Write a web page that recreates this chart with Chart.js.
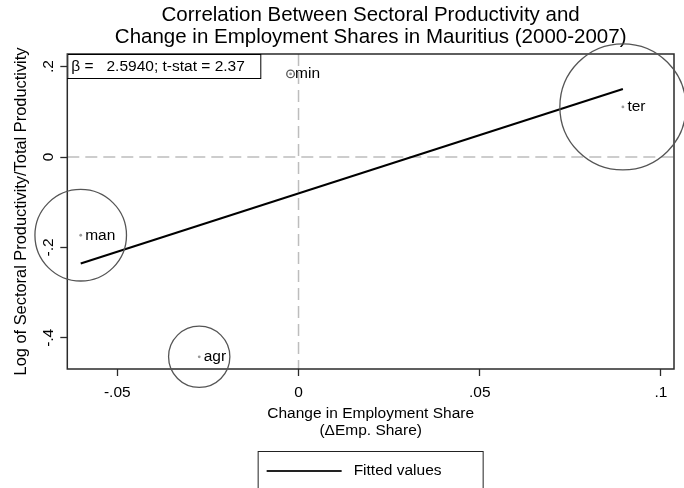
<!DOCTYPE html>
<html>
<head>
<meta charset="utf-8">
<script src="https://cdn.jsdelivr.net/npm/chart.js@4"></script>
<style>
  html, body { margin: 0; padding: 0; background: #fff; }
  #wrap { width: 684px; height: 488px; }
</style>
</head>
<body>
<div id="wrap"><canvas id="chart" width="684" height="488"></canvas></div>
<script>
// sector data
const sectors = ['man', 'agr', 'min', 'ter'];
const dEmpShare = [-0.0601, -0.0274, -0.0022, 0.0895];
const logRelProd = [-0.173, -0.442, 0.184, 0.111];
const empWeight = [0.29, 0.13, 0.002, 0.55];   // marker weights (employment share)

// fitted line end points
const fitX = [-0.0601, 0.0895];
const fitY = [-0.2355, 0.1506];

const xTicks = [-0.05, 0, 0.05, 0.1];
const xTickLabels = ['-.05', '0', '.05', '.1'];
const yTicks = [-0.4, -0.2, 0, 0.2];
const yTickLabels = ['-.4', '-.2', '0', '.2'];

const betaText = 'β =   2.5940; t-stat = 2.37';
const legendText = 'Fitted values';

const FONT = "'Liberation Sans', Arial, Helvetica, sans-serif";
Chart.defaults.font.family = FONT;
Chart.defaults.color = '#000';

const points = dEmpShare.map((x, i) => ({ x: x, y: logRelProd[i] }));
const fitPoints = fitX.map((x, i) => ({ x: x, y: fitY[i] }));

// extra drawing: reference lines, frame, labels, beta box, legend box
const decorations = {
  id: 'decorations',
  beforeDatasetsDraw(chart) {
    const { ctx, chartArea: a, scales: { x, y } } = chart;
    ctx.save();
    // dashed zero lines
    ctx.strokeStyle = '#bdbdbd';
    ctx.lineWidth = 1.5;
    ctx.setLineDash([12, 6]);
    const x0 = x.getPixelForValue(0);
    const y0 = y.getPixelForValue(0);
    ctx.beginPath();
    ctx.moveTo(x0, a.top); ctx.lineTo(x0, a.bottom);
    ctx.moveTo(a.left, y0); ctx.lineTo(a.right, y0);
    ctx.stroke();
    ctx.setLineDash([]);
    // plot frame
    ctx.strokeStyle = '#2a2a2a';
    ctx.lineWidth = 1.5;
    ctx.strokeRect(a.left, a.top, a.right - a.left, a.bottom - a.top);
    ctx.restore();
  },
  afterDraw(chart) {
    const { ctx, chartArea: a, scales: { x, y } } = chart;
    ctx.save();
    ctx.font = '15.5px ' + FONT;
    ctx.fillStyle = '#000';
    ctx.textBaseline = 'middle';
    ctx.textAlign = 'left';
    // sector labels to the right of each marker
    sectors.forEach((s, i) => {
      ctx.fillText(s, x.getPixelForValue(dEmpShare[i]) + 4.5, y.getPixelForValue(logRelProd[i]));
    });

    // beta / t-stat box
    ctx.fillStyle = '#fff';
    ctx.fillRect(a.left, a.top, 193, 24);
    ctx.strokeStyle = '#000';
    ctx.lineWidth = 1;
    ctx.strokeRect(a.left + 0.5, a.top + 0.5, 193, 24);
    ctx.fillStyle = '#000';
    ctx.fillText(betaText, a.left + 4, a.top + 12.5);

    // legend box
    const cx = (a.left + a.right) / 2;
    ctx.strokeStyle = '#222';
    ctx.strokeRect(cx - 112.5, 451.5, 225, 45);
    ctx.lineWidth = 2;
    ctx.beginPath();
    ctx.moveTo(cx - 104, 471);
    ctx.lineTo(cx - 29, 471);
    ctx.stroke();
    ctx.fillText(legendText, cx - 17, 471);
    ctx.restore();
  }
};

new Chart(document.getElementById('chart'), {
  data: {
    datasets: [
      {
        type: 'scatter',
        data: points,
        pointRadius: ctx => 85 * Math.sqrt(empWeight[ctx.dataIndex]),
        pointBackgroundColor: 'rgba(0,0,0,0)',
        pointBorderColor: '#555',
        pointBorderWidth: 1.3,
        clip: false
      },
      {
        type: 'scatter',
        data: points,
        pointRadius: 1.4,
        pointBackgroundColor: '#999',
        pointBorderWidth: 0
      },
      {
        type: 'line',
        data: fitPoints,
        borderColor: '#000',
        borderWidth: 2,
        pointRadius: 0,
        fill: false
      }
    ]
  },
  options: {
    responsive: false,
    animation: false,
    devicePixelRatio: 1,
    events: [],
    layout: { autoPadding: false, padding: { top: 0, right: 10, bottom: 0, left: 0 } },
    plugins: {
      legend: { display: false },
      tooltip: { enabled: false },
      title: {
        display: true,
        fullSize: false,
        text: ['Correlation Between Sectoral Productivity and',
               'Change in Employment Shares in Mauritius (2000-2007)'],
        font: { size: 20.5, weight: 'normal', lineHeight: '22px' },
        color: '#000',
        padding: { top: 4.5, bottom: 5.5 }
      }
    },
    scales: {
      x: {
        type: 'linear',
        min: -0.0638,
        max: 0.1036,
        afterBuildTicks: s => { s.ticks = xTicks.map(v => ({ value: v })); },
        afterFit: s => { s.height = 119; },
        ticks: {
          callback: (v, i) => xTickLabels[i],
          font: { size: 15.5 },
          color: '#000',
          padding: 7,
          maxRotation: 0
        },
        grid: { drawOnChartArea: false, drawTicks: true, tickLength: 7, color: '#2a2a2a', tickWidth: 1.3 },
        border: { display: false },
        title: {
          display: true,
          text: ['Change in Employment Share', '(ΔEmp. Share)'],
          font: { size: 15.5, lineHeight: '17px' },
          color: '#000',
          padding: { top: 0, bottom: 48.5 }
        }
      },
      y: {
        type: 'linear',
        min: -0.469,
        max: 0.228,
        afterBuildTicks: s => { s.ticks = yTicks.map(v => ({ value: v })); },
        afterFit: s => { s.width = 67.3; },
        ticks: {
          callback: (v, i) => yTickLabels[i],
          font: { size: 15.5 },
          color: '#000',
          minRotation: 90,
          maxRotation: 90,
          crossAlign: 'center',
          padding: 2.5
        },
        grid: { drawOnChartArea: false, drawTicks: true, tickLength: 7, color: '#2a2a2a', tickWidth: 1.3 },
        border: { display: false },
        title: {
          display: true,
          text: 'Log of Sectoral Productivity/Total Productivity',
          font: { size: 16.4, lineHeight: 1.2 },
          color: '#000',
          padding: { top: 11.2, bottom: 0 }
        }
      }
    }
  },
  plugins: [decorations]
});
</script>
</body>
</html>
